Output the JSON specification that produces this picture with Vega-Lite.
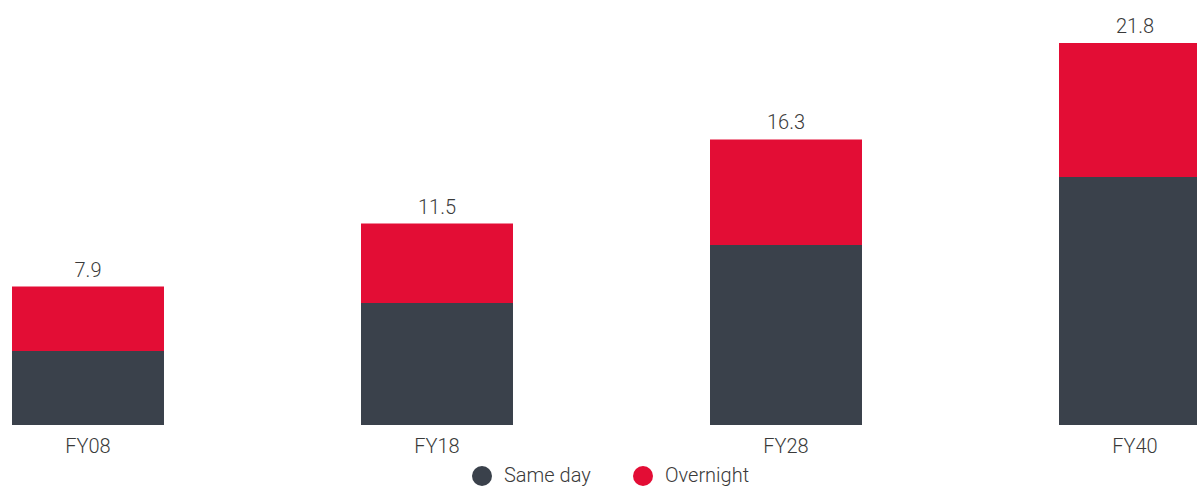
{
  "$schema": "https://vega.github.io/schema/vega-lite/v6.json",
  "width": 1197,
  "height": 425,
  "padding": {"left": 0, "top": 0, "right": 0, "bottom": 67},
  "autosize": {"type": "none"},
  "background": "white",
  "config": {
    "view": {"stroke": null},
    "font": "Roboto"
  },
  "datasets": {
    "segments": [
      {"year": "FY08", "type": "Same day", "value": 4.22},
      {"year": "FY08", "type": "Overnight", "value": 3.68},
      {"year": "FY18", "type": "Same day", "value": 6.96},
      {"year": "FY18", "type": "Overnight", "value": 4.54},
      {"year": "FY28", "type": "Same day", "value": 10.27},
      {"year": "FY28", "type": "Overnight", "value": 6.03},
      {"year": "FY40", "type": "Same day", "value": 14.15},
      {"year": "FY40", "type": "Overnight", "value": 7.65}
    ],
    "totals": [
      {"year": "FY08", "total": 7.9},
      {"year": "FY18", "total": 11.5},
      {"year": "FY28", "total": 16.3},
      {"year": "FY40", "total": 21.8}
    ]
  },
  "encoding": {
    "x": {
      "field": "year",
      "type": "nominal",
      "sort": null,
      "scale": {"range": [0, 1223], "paddingInner": 0.5645, "paddingOuter": 0.0344},
      "axis": {
        "title": null,
        "domain": false,
        "ticks": false,
        "labelAngle": 0,
        "labelFontSize": 20,
        "labelFont": "Roboto",
        "labelFontWeight": 300,
        "labelColor": "#3a3a3a",
        "labelPadding": 11
      }
    }
  },
  "layer": [
    {
      "data": {"name": "segments"},
      "mark": {"type": "bar", "clip": true},
      "encoding": {
        "y": {
          "field": "value",
          "type": "quantitative",
          "stack": "zero",
          "scale": {"domain": [0, 24.26], "nice": false, "zero": true},
          "axis": null
        },
        "color": {
          "field": "type",
          "type": "nominal",
          "sort": ["Same day", "Overnight"],
          "scale": {"domain": ["Same day", "Overnight"], "range": ["#3a414b", "#e30d35"]},
          "legend": {
            "title": null,
            "orient": "none",
            "direction": "horizontal",
            "legendX": 472,
            "legendY": 466,
            "symbolType": "circle",
            "symbolSize": 400,
            "symbolStrokeWidth": 0,
            "symbolOpacity": 1,
            "labelFontSize": 20,
            "labelFont": "Roboto",
            "labelFontWeight": 300,
            "labelColor": "#3a3a3a",
            "labelOffset": 12,
            "columnPadding": 42
          }
        }
      }
    },
    {
      "data": {"name": "totals"},
      "mark": {
        "type": "text",
        "baseline": "bottom",
        "dy": -6,
        "fontSize": 20,
        "font": "Roboto",
        "fontWeight": 300,
        "color": "#3a3a3a"
      },
      "encoding": {
        "y": {"field": "total", "type": "quantitative"},
        "text": {"field": "total", "type": "quantitative", "format": ".1f"}
      }
    }
  ]
}
